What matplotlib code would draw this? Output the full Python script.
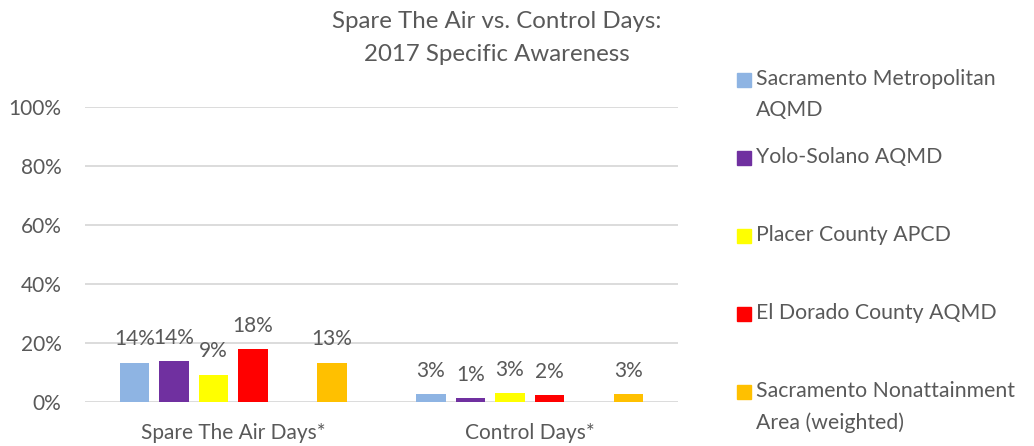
import matplotlib
matplotlib.use("Agg")
import matplotlib.pyplot as plt
from matplotlib.patches import Rectangle
import numpy as np

plt.rcParams['font.family'] = ['Lato', 'DejaVu Sans']

categories = ["Spare The Air Days*", "Control Days*"]
series_names = ["Sacramento Metropolitan\nAQMD", "Yolo-Solano AQMD", "Placer County APCD",
                "El Dorado County AQMD", "Sacramento Nonattainment\nArea (weighted)"]
series_colors = ["#8EB4E3", "#7030A0", "#FFFF00", "#FF0000", "#FFC000"]
# bar heights (%) per series: [Spare The Air Days, Control Days]
values = [
    [13.3, 2.7],
    [13.9, 1.2],
    [9.2, 2.9],
    [18.0, 2.3],
    [13.3, 2.6],
]
labels = [
    ["14%", "3%"],
    ["14%", "1%"],
    ["9%", "3%"],
    ["18%", "2%"],
    ["13%", "3%"],
]
# slot index in the group (slot 4 is empty)
slots = [0, 1, 2, 3, 5]
yticks = [0, 20, 40, 60, 80, 100]

txt = "#595959"
grid = "#D9D9D9"

fig = plt.figure(figsize=(10.34, 4.46), dpi=100)
ax = fig.add_axes([85/1034, 1-402/446, (678-85)/1034, (402-107)/446])

x = np.arange(len(categories))
nslots = 6
group_w = 0.8
slot_w = group_w / nslots
bar_w = slot_w * 0.74
for i, (vals, labs, col, s) in enumerate(zip(values, labels, series_colors, slots)):
    xs = x - group_w/2 + slot_w*(s + 0.5)
    ax.bar(xs, vals, width=bar_w, color=col, zorder=3)
    for xx, v, lb in zip(xs, vals, labs):
        ax.annotate(lb, (xx, v), xytext=(0, 12.5), textcoords='offset points',
                    ha='center', va='baseline', fontsize=15, color=txt)

ax.set_xlim(-0.5, 1.5)
ax.set_ylim(0, 100)
ax.set_yticks(yticks)
ax.set_yticklabels([f"{t}%" for t in yticks])
ax.set_xticks(x)
ax.set_xticklabels(categories)
ax.tick_params(axis='both', length=0, labelsize=15, labelcolor=txt)
ax.tick_params(axis='y', pad=17)
ax.tick_params(axis='x', pad=15)
ax.grid(axis='y', color=grid, linewidth=1.3, zorder=0)
for sp in ax.spines.values():
    sp.set_visible(False)

fig.text(497/1034, 1-38/446, "Spare The Air vs. Control Days:\n2017 Specific Awareness",
         ha='center', va='center', fontsize=17.3, color=txt, linespacing=1.65)

# legend
for i, (name, col) in enumerate(zip(series_names, series_colors)):
    top = 73 + 78*i
    fig.patches.append(Rectangle((737/1034, 1-(top+14)/446), 14/1034, 14/446,
                                 transform=fig.transFigure, color=col, figure=fig))
    fig.text(756/1034, 1-(top-4)/446, name, ha='left', va='top', fontsize=15.3,
             color=txt, linespacing=1.7)

fig.savefig("out.png", dpi=100)
